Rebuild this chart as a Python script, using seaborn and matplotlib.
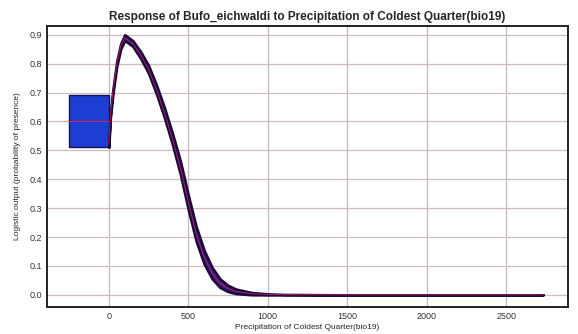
import numpy as np
import pandas as pd
import seaborn as sns
import matplotlib.pyplot as plt
from matplotlib.patches import Rectangle

# response curve (mean and +/- one std)
precip = [0, 10, 25, 50, 75, 100, 150, 200, 250, 300, 350, 400, 450, 500,
          550, 600, 650, 700, 750, 800, 900, 1000, 1100, 1500, 2000, 2500, 2733]
mean_resp = [0.52, 0.62, 0.70, 0.80, 0.86, 0.89, 0.87, 0.83, 0.78, 0.71, 0.63, 0.54,
             0.44, 0.32, 0.21, 0.13, 0.075, 0.04, 0.022, 0.012, 0.004, 0.0015, 0.0005,
             0.0, 0.0, 0.0, 0.0]
std_resp = [0.01, 0.01, 0.01, 0.01, 0.01, 0.01, 0.01, 0.012, 0.014, 0.016, 0.018, 0.02,
            0.024, 0.026, 0.026, 0.024, 0.02, 0.015, 0.011, 0.008, 0.004, 0.002, 0.001,
            0.0, 0.0, 0.0, 0.0]

# the separate block left of zero
box_x = [-250, 0]
box_mean = 0.6
box_low = 0.51
box_high = 0.69

x_ticks = [0, 500, 1000, 1500, 2000, 2500]
y_ticks = [0.0, 0.1, 0.2, 0.3, 0.4, 0.5, 0.6, 0.7, 0.8, 0.9]

df = pd.DataFrame({"precip": precip, "mean": mean_resp, "std": std_resp})
df["low"] = df["mean"] - df["std"]
df["high"] = df["mean"] + df["std"]

sns.set_theme(style="white")
plt.rcParams["font.family"] = ["Liberation Sans", "DejaVu Sans"]

fig = plt.figure(figsize=(5.78, 3.34), dpi=100)
ax = fig.add_axes([0.081, 0.081, 0.902, 0.841])

for t in x_ticks:
    ax.axvline(t, color="#c4b8b8", lw=0.9, zorder=0)
for t in y_ticks:
    ax.axhline(t, color="#cdbcbc", lw=0.9, zorder=0)

ax.add_patch(Rectangle((box_x[0], box_low), box_x[1] - box_x[0], box_high - box_low,
                       facecolor="#1c3ed2", edgecolor="#10145a", lw=1.0, zorder=2))
ax.plot(box_x, [box_mean, box_mean], color="#d0285a", lw=0.8, zorder=3)

ax.fill_between(df["precip"], df["low"], df["high"], color="#3c1a7e",
                edgecolor="#1a0a3c", lw=1.8, zorder=3)
sns.lineplot(data=df, x="precip", y="mean", color="#c8205a", lw=0.7, alpha=0.8,
             ax=ax, zorder=4)

ax.set_xlim(-390, 2890)
ax.set_ylim(-0.042, 0.93)
ax.set_xticks(x_ticks)
ax.set_yticks(y_ticks)
ax.set_yticklabels([f"{v:.1f}" for v in y_ticks])
ax.tick_params(labelsize=6.5, colors="#333333", length=2, direction="in")

for s in ax.spines.values():
    s.set_color("#222222")
    s.set_linewidth(1.4)

ax.set_title("Response of Bufo_eichwaldi to Precipitation of Coldest Quarter(bio19)",
             fontsize=8.5, fontweight="bold", pad=4)
ax.set_xlabel("Precipitation of Coldest Quarter(bio19)", fontsize=6, labelpad=2)
ax.set_ylabel("Logistic output (probability of presence)", fontsize=6, labelpad=6)

fig.savefig("out.png", dpi=100)
